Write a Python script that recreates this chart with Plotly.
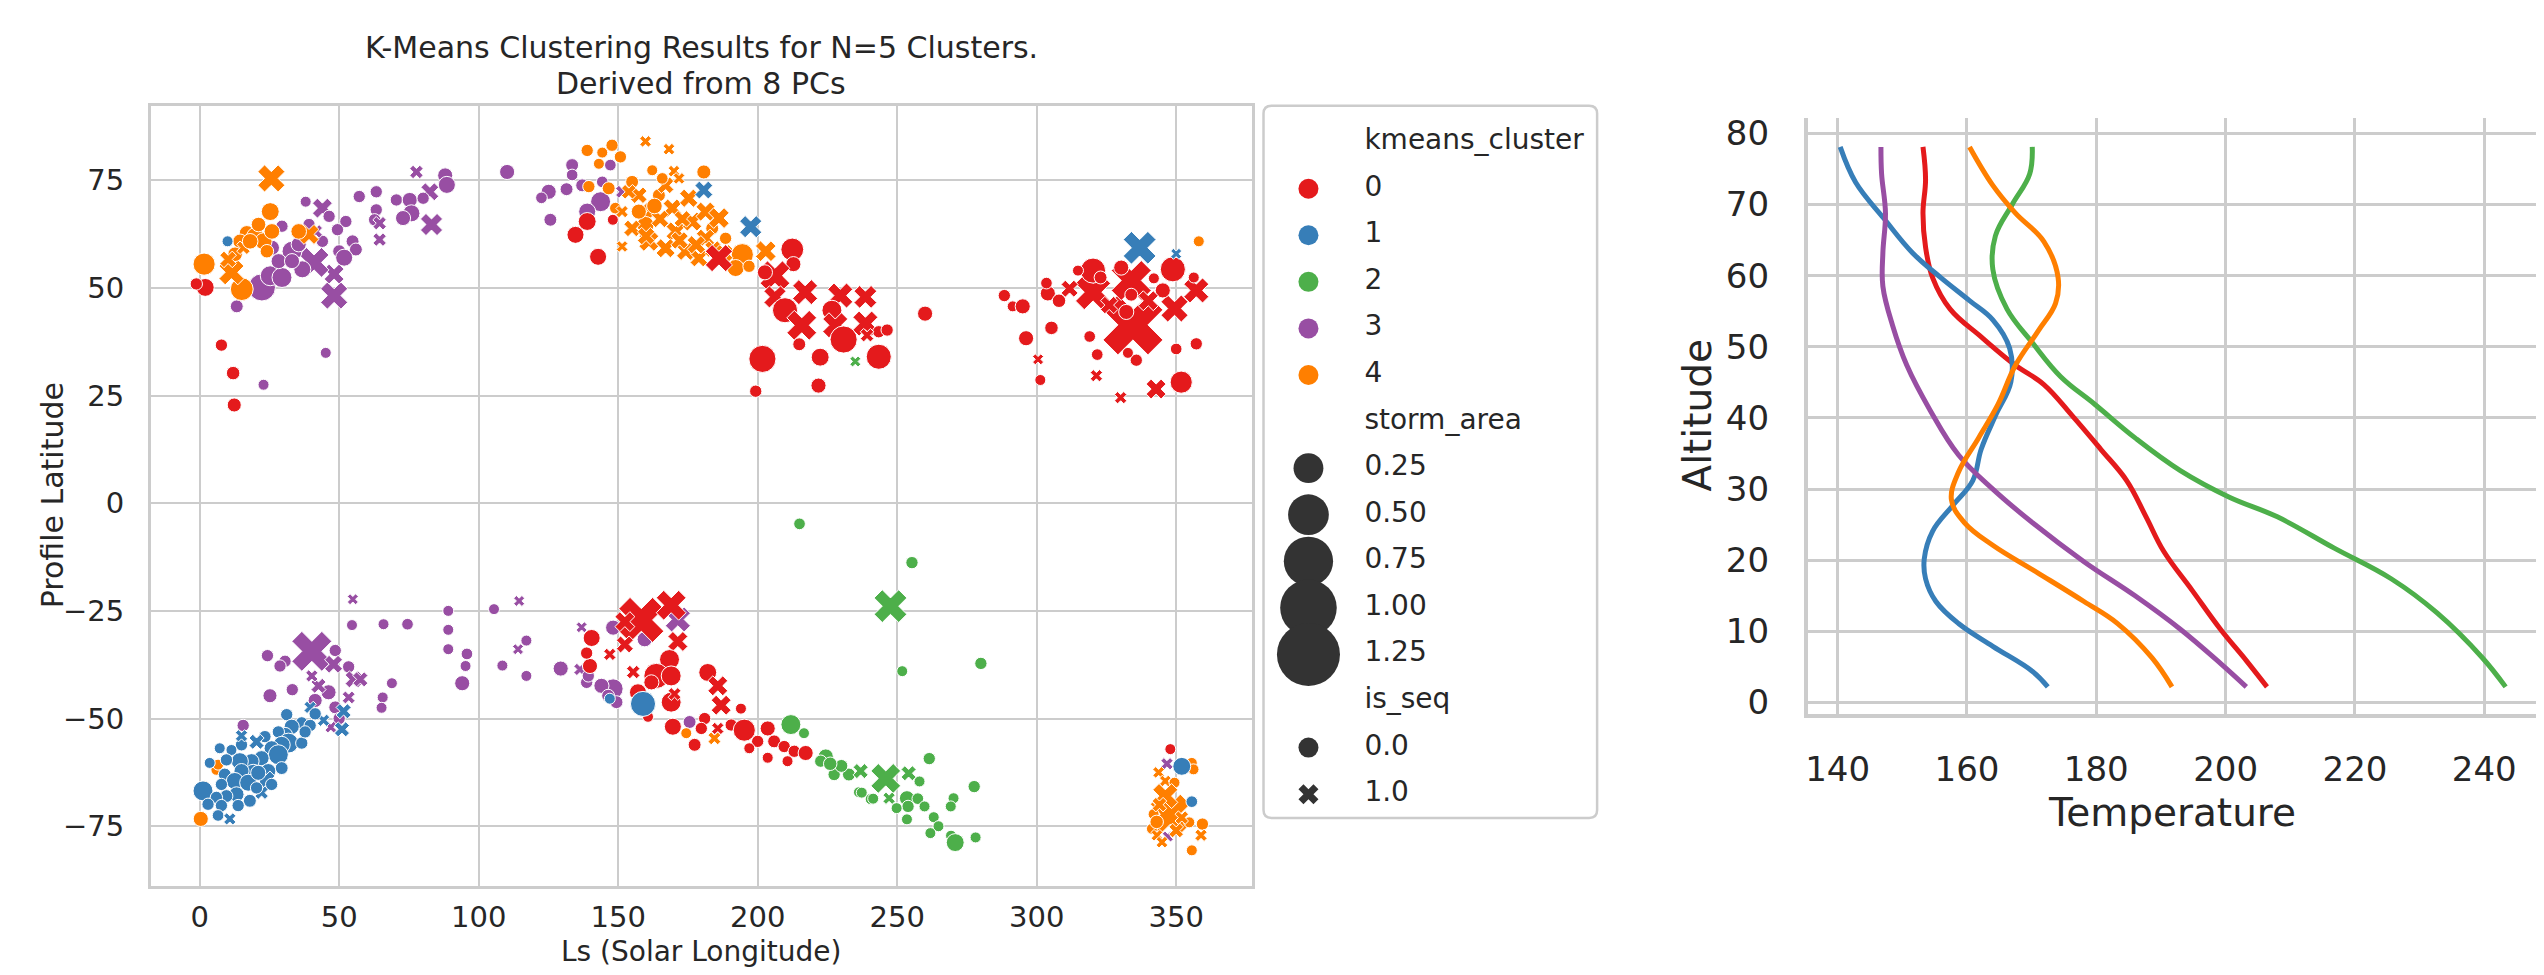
import numpy as np
import plotly.graph_objects as go

# ---------------- data ----------------
cluster_ids = [0, 1, 2, 3, 4]
cluster_colors = ["#e41a1c", "#377eb8", "#4daf4a", "#984ea3", "#ff7f00"]

# rows: (Ls, profile latitude, storm_area, is_seq)
cluster0_points = [
    (2.0, 50.1, 0.065, 0), (-1.2, 50.9, 0.01, 0), (7.8, 36.7, 0.01, 0), (12.0, 30.2, 0.02, 0), (12.4, 22.8, 0.025, 0),
    (138.9, 65.4, 0.065, 0), (134.7, 62.3, 0.055, 0), (142.8, 57.2, 0.055, 0), (148.1, 65.8, 0.0, 0),
    (186.1, 56.9, 0.2, 1), (212.4, 58.9, 0.13, 0), (201.7, 33.5, 0.2, 0),
    (212.8, 55.5, 0.035, 0), (206.2, 52.8, 0.25, 1), (202.6, 53.6, 0.035, 0), (206.2, 47.9, 0.12, 1),
    (217.0, 49.0, 0.165, 1), (209.8, 44.8, 0.165, 0), (215.8, 41.3, 0.25, 1), (229.6, 48.2, 0.165, 1),
    (238.6, 47.9, 0.13, 1), (226.6, 44.8, 0.09, 0), (227.8, 41.3, 0.165, 1), (238.6, 41.7, 0.165, 1),
    (230.8, 38.0, 0.2, 0), (243.4, 39.8, 0.01, 0), (246.4, 40.2, 0.01, 0), (239.2, 39.0, 0.02, 1),
    (214.9, 36.9, 0.015, 0), (222.4, 33.9, 0.065, 0), (243.4, 34.0, 0.165, 0), (221.8, 27.3, 0.035, 0),
    (199.3, 26.0, 0.01, 0), (260.0, 44.0, 0.035, 0), (288.4, 48.2, 0.01, 0), (291.4, 45.7, 0.0, 0),
    (295.0, 45.7, 0.035, 0), (296.2, 38.3, 0.035, 0),
    (334.5, 41.4, 1.13, 1), (333.9, 51.7, 0.48, 1), (320.2, 49.0, 0.36, 1), (349.4, 45.2, 0.2, 1),
    (357.2, 49.4, 0.165, 1), (311.8, 49.8, 0.055, 1), (320.2, 54.0, 0.165, 0), (348.8, 54.3, 0.165, 0),
    (330.3, 54.7, 0.035, 0), (322.9, 52.4, 0.015, 0), (333.9, 48.4, 0.015, 0), (332.1, 44.4, 0.035, 0),
    (345.2, 49.4, 0.035, 0), (342.0, 52.2, 0.0, 0), (356.3, 52.4, 0.0, 0), (319.0, 38.7, 0.005, 0),
    (321.7, 34.5, 0.005, 0), (335.7, 33.2, 0.01, 0), (332.7, 34.9, 0.0, 0), (350.0, 35.8, 0.005, 0),
    (357.2, 37.0, 0.01, 0), (351.8, 28.1, 0.12, 0), (342.8, 26.5, 0.09, 1), (321.4, 29.6, 0.01, 1),
    (330.1, 24.5, 0.01, 1), (314.8, 54.0, 0.0, 0), (300.5, 33.4, 0.0, 1), (301.3, 28.6, 0.0, 0),
    (305.3, 40.7, 0.02, 0), (304.0, 48.7, 0.035, 0), (303.5, 51.1, 0.005, 0), (308.0, 47.0, 0.02, 0),
    (326.0, 46.0, 0.06, 1), (340.0, 47.0, 0.09, 1),
    (158.3, -27.1, 0.62, 1), (169.0, -23.7, 0.25, 1), (152.4, -27.5, 0.09, 1), (152.4, -32.8, 0.055, 1),
    (171.4, -32.1, 0.09, 1), (147.0, -35.1, 0.01, 1), (155.4, -39.2, 0.02, 1), (140.5, -31.3, 0.055, 0),
    (139.9, -37.8, 0.035, 0), (138.7, -34.8, 0.01, 0), (168.4, -36.3, 0.09, 0), (163.7, -40.1, 0.165, 0),
    (169.0, -40.1, 0.09, 0), (157.1, -43.9, 0.055, 0), (169.0, -46.2, 0.09, 0), (170.2, -44.3, 0.015, 1),
    (182.1, -39.3, 0.065, 0), (185.7, -42.4, 0.09, 1), (186.9, -46.9, 0.09, 1), (194.0, -47.7, 0.0, 0),
    (169.6, -51.9, 0.055, 0), (177.4, -56.1, 0.015, 0), (181.0, -50.0, 0.01, 0), (179.8, -52.3, 0.01, 0),
    (185.7, -52.3, 0.01, 1), (190.5, -51.5, 0.01, 0), (195.2, -52.7, 0.12, 0), (200.0, -55.3, 0.01, 0),
    (197.0, -56.9, 0.0, 0), (203.6, -52.3, 0.035, 0), (205.9, -55.3, 0.015, 0), (209.5, -56.5, 0.01, 0),
    (203.6, -59.1, 0.0, 0), (210.7, -59.9, 0.0, 0), (213.1, -57.6, 0.01, 0), (217.2, -58.0, 0.035, 0),
    (160.7, -49.6, 0.0, 0), (161.9, -41.6, 0.035, 0), (347.9, -57.1, 0.0, 0),
]

cluster1_points = [
    (10.0, 60.8, 0.0, 0), (180.7, 72.7, 0.065, 1), (197.5, 64.2, 0.12, 1), (336.9, 59.3, 0.31, 1), (350.0, 57.9, 0.0, 1),
    (51.6, -48.3, 0.035, 1), (51.0, -52.5, 0.035, 1), (39.6, -47.4, 0.01, 1), (44.4, -50.4, 0.01, 1),
    (31.2, -49.1, 0.01, 0), (36.6, -51.0, 0.01, 0), (39.6, -51.6, 0.01, 0), (33.0, -51.9, 0.035, 0),
    (30.6, -53.8, 0.035, 0), (28.2, -53.1, 0.01, 0), (31.8, -55.7, 0.09, 0), (29.4, -56.1, 0.055, 0),
    (36.6, -55.7, 0.01, 0), (23.4, -54.2, 0.01, 0), (25.8, -56.9, 0.035, 0), (20.4, -55.4, 0.035, 1),
    (15.0, -56.1, 0.01, 0), (7.2, -56.9, 0.0, 0), (11.4, -57.3, 0.0, 0), (28.2, -58.4, 0.09, 0),
    (22.2, -59.2, 0.035, 0), (18.6, -59.9, 0.035, 0), (14.4, -59.9, 0.055, 0), (9.6, -59.6, 0.01, 0),
    (3.6, -60.3, 0.0, 0), (29.4, -61.5, 0.015, 0), (24.6, -62.2, 0.035, 0), (19.2, -62.6, 0.055, 0),
    (15.0, -62.2, 0.035, 0), (9.0, -63.0, 0.015, 0), (12.6, -64.5, 0.055, 0), (23.4, -64.5, 0.09, 1),
    (17.4, -64.9, 0.055, 0), (7.8, -65.3, 0.01, 0), (1.2, -66.8, 0.09, 0), (22.2, -67.2, 0.02, 1),
    (13.2, -67.6, 0.035, 0), (18.0, -69.1, 0.015, 0), (9.6, -68.0, 0.015, 0), (6.0, -68.3, 0.01, 0),
    (3.0, -69.9, 0.01, 0), (7.8, -70.2, 0.01, 0), (13.8, -70.2, 0.01, 0), (6.6, -72.5, 0.005, 0),
    (10.8, -73.3, 0.01, 1), (21.0, -62.6, 0.035, 0), (25.8, -65.3, 0.01, 0), (20.4, -66.1, 0.01, 0),
    (15.0, -54.0, 0.01, 1), (37.8, -53.1, 0.01, 0), (41.4, -48.9, 0.01, 0),
    (158.9, -46.6, 0.165, 0), (147.0, -45.4, 0.0, 0), (352.0, -61.1, 0.065, 0), (355.6, -69.3, 0.005, 0),
]

cluster2_points = [
    (235.0, 32.9, 0.0, 1),
    (215.0, -4.8, 0.005, 0), (255.3, -13.8, 0.01, 0), (247.6, -23.9, 0.31, 1), (251.8, -39.0, 0.0, 0), (280.0, -37.2, 0.01, 0),
    (211.9, -51.4, 0.09, 0), (216.6, -53.4, 0.0, 0), (224.4, -58.8, 0.035, 0), (222.6, -59.9, 0.01, 0),
    (227.4, -63.0, 0.01, 0), (232.7, -63.0, 0.015, 0), (236.9, -62.2, 0.035, 1), (236.3, -67.1, 0.0, 0),
    (240.5, -68.7, 0.0, 0), (245.9, -63.9, 0.25, 1), (254.1, -62.7, 0.035, 1), (261.5, -59.3, 0.01, 0),
    (258.0, -64.6, 0.0, 0), (277.6, -65.8, 0.01, 0), (237.3, -67.2, 0.0, 0), (241.4, -68.6, 0.0, 0),
    (253.5, -68.5, 0.035, 0), (257.4, -68.6, 0.005, 0), (253.9, -70.4, 0.01, 0), (249.8, -70.8, 0.0, 0),
    (259.8, -70.4, 0.0, 0), (270.2, -68.5, 0.0, 0), (269.2, -70.4, 0.0, 0), (247.1, -68.5, 0.01, 1),
    (263.1, -72.9, 0.0, 0), (253.5, -73.4, 0.0, 0), (264.8, -75.0, 0.0, 0), (261.9, -76.6, 0.0, 0),
    (269.3, -77.2, 0.0, 0), (270.8, -78.8, 0.065, 0), (278.1, -77.6, 0.0, 0), (230.0, -61.0, 0.015, 0),
    (226.0, -60.5, 0.02, 0),
]

cluster3_points = [
    (13.3, 45.7, 0.015, 0), (45.2, 34.9, 0.0, 0), (22.9, 27.5, 0.0, 0), (48.2, 48.2, 0.2, 1),
    (48.2, 53.2, 0.09, 1), (41.0, 55.9, 0.25, 1), (44.0, 68.5, 0.09, 1), (22.3, 50.1, 0.2, 0),
    (25.3, 52.8, 0.09, 0), (29.5, 52.4, 0.09, 0), (33.1, 58.5, 0.09, 0), (36.8, 54.3, 0.055, 0),
    (29.5, 64.3, 0.01, 0), (38.0, 70.0, 0.0, 0), (46.4, 66.6, 0.01, 0), (52.4, 65.4, 0.01, 0),
    (50.0, 58.5, 0.015, 0), (54.8, 60.8, 0.015, 0), (56.0, 58.9, 0.015, 0), (51.8, 57.0, 0.055, 0),
    (49.4, 63.5, 0.01, 0), (57.2, 71.2, 0.01, 0), (63.3, 72.3, 0.01, 0), (63.3, 68.1, 0.01, 0),
    (62.7, 65.8, 0.01, 0), (64.5, 61.2, 0.02, 1), (64.5, 65.0, 0.02, 1), (70.5, 70.4, 0.01, 0),
    (75.3, 70.4, 0.035, 0), (75.9, 67.3, 0.055, 0), (72.9, 66.2, 0.035, 0), (83.1, 64.7, 0.12, 1),
    (82.5, 72.3, 0.065, 1), (77.7, 76.9, 0.02, 1), (88.0, 76.1, 0.035, 0), (88.6, 73.9, 0.055, 0),
    (80.1, 70.8, 0.01, 0), (44.0, 60.8, 0.01, 0), (41.6, 63.1, 0.02, 1), (35.5, 60.1, 0.035, 0),
    (25.9, 59.3, 0.035, 0), (28.3, 56.2, 0.035, 0), (33.1, 56.2, 0.035, 0), (39.2, 64.7, 0.01, 0),
    (110.2, 76.9, 0.035, 0), (133.5, 78.5, 0.015, 0), (133.5, 76.2, 0.005, 0), (125.1, 72.3, 0.035, 0),
    (122.5, 70.9, 0.005, 0), (131.5, 72.9, 0.015, 0), (125.7, 65.8, 0.015, 0), (137.1, 73.8, 0.015, 0),
    (143.7, 70.0, 0.09, 0), (138.9, 67.7, 0.055, 0), (144.3, 74.6, 0.005, 0), (147.2, 78.5, 0.005, 0),
    (151.4, 72.3, 0.015, 1),
    (40.2, -34.4, 0.48, 1), (24.3, -35.4, 0.01, 0), (30.6, -36.7, 0.01, 0), (28.8, -37.8, 0.01, 0),
    (48.6, -34.2, 0.01, 0), (53.4, -38.0, 0.01, 0), (48.0, -37.4, 0.065, 1), (55.2, -40.9, 0.055, 1),
    (57.6, -40.9, 0.035, 1), (25.2, -44.7, 0.025, 0), (33.2, -43.3, 0.01, 0), (41.4, -45.8, 0.025, 0),
    (46.2, -43.9, 0.035, 0), (48.6, -47.4, 0.015, 0), (42.6, -42.4, 0.035, 1), (53.4, -45.1, 0.015, 1),
    (15.6, -51.6, 0.01, 0), (54.6, -28.3, 0.0, 0), (54.9, -22.3, 0.0, 1), (65.9, -28.1, 0.0, 0),
    (74.5, -28.1, 0.005, 0), (89.1, -25.0, 0.0, 0), (89.1, -29.4, 0.0, 0), (89.1, -33.9, 0.0, 0),
    (95.8, -35.0, 0.005, 0), (95.3, -37.8, 0.0, 0), (94.1, -41.8, 0.035, 0), (105.5, -24.6, 0.0, 0),
    (114.5, -22.7, 0.0, 1), (117.1, -31.9, 0.0, 0), (114.1, -33.9, 0.0, 1), (108.5, -37.7, 0.0, 0),
    (117.1, -40.1, 0.0, 0), (68.9, -41.8, 0.0, 0), (65.6, -45.1, 0.0, 0), (65.2, -47.5, 0.0, 0),
    (40.2, -40.1, 0.01, 1), (50.0, -50.0, 0.01, 0), (47.0, -52.0, 0.005, 1),
    (129.4, -38.4, 0.035, 0), (136.9, -28.8, 0.0, 1), (148.2, -28.9, 0.035, 0), (159.5, -31.6, 0.035, 0),
    (171.4, -27.0, 0.165, 1), (148.2, -43.1, 0.09, 0), (144.0, -42.4, 0.035, 0), (138.7, -41.6, 0.01, 0),
    (136.3, -38.6, 0.01, 1), (149.4, -46.2, 0.015, 0), (146.4, -44.7, 0.015, 0), (175.6, -50.8, 0.015, 0),
    (139.3, -40.1, 0.01, 0),
    (346.7, -60.5, 0.01, 1), (347.0, -77.4, 0.0, 1),
]

cluster4_points = [
    (25.7, 75.4, 0.2, 1), (25.3, 67.7, 0.065, 0), (1.6, 55.5, 0.12, 0), (15.1, 49.7, 0.13, 0),
    (11.4, 53.6, 0.165, 1), (39.2, 62.4, 0.09, 1), (16.9, 62.7, 0.035, 0), (19.9, 62.0, 0.055, 0),
    (22.9, 60.8, 0.055, 0), (24.1, 58.5, 0.02, 0), (14.5, 60.8, 0.03, 0), (12.7, 57.8, 0.03, 0),
    (10.2, 56.6, 0.05, 1), (15.7, 59.3, 0.02, 1), (25.9, 63.1, 0.04, 0), (35.5, 63.1, 0.04, 0),
    (21.1, 64.7, 0.03, 0), (18.1, 60.8, 0.04, 0),
    (138.9, 81.9, 0.01, 0), (147.8, 83.1, 0.01, 0), (144.3, 81.4, 0.0, 0), (150.8, 80.4, 0.01, 0),
    (143.1, 78.8, 0.0, 0), (159.8, 84.0, 0.005, 1), (168.2, 82.2, 0.005, 1), (180.7, 76.9, 0.025, 0),
    (155.0, 74.6, 0.015, 0), (162.2, 77.3, 0.0, 0), (170.0, 77.1, 0.005, 1), (139.5, 73.5, 0.01, 0),
    (146.6, 73.1, 0.015, 0), (149.0, 68.5, 0.005, 0), (151.4, 67.7, 0.01, 1), (151.4, 59.6, 0.005, 1),
    (157.4, 71.5, 0.05, 1), (162.2, 67.7, 0.08, 1), (159.8, 64.6, 0.055, 0), (161.0, 60.8, 0.09, 1),
    (164.6, 71.5, 0.015, 0), (167.0, 73.8, 0.05, 1), (169.4, 68.5, 0.07, 1), (170.6, 63.1, 0.08, 1),
    (167.0, 59.2, 0.08, 1), (175.3, 70.8, 0.07, 1), (176.5, 65.4, 0.08, 1), (174.2, 58.5, 0.07, 1),
    (178.9, 56.9, 0.06, 1), (181.3, 67.7, 0.08, 1), (183.7, 63.8, 0.015, 0), (186.1, 66.2, 0.1, 1),
    (188.5, 61.5, 0.01, 0), (181.3, 61.5, 0.07, 1), (194.5, 57.7, 0.12, 0), (192.1, 54.6, 0.055, 0),
    (196.9, 55.0, 0.01, 0), (171.8, 75.4, 0.005, 1), (165.8, 75.4, 0.005, 0), (157.4, 67.7, 0.035, 0),
    (155.0, 63.8, 0.05, 1), (153.8, 72.3, 0.03, 1), (202.9, 58.5, 0.1, 1),
    (165.0, 66.0, 0.06, 1), (172.0, 61.0, 0.06, 1), (178.0, 60.0, 0.07, 1), (184.0, 59.0, 0.05, 1),
    (163.0, 69.0, 0.04, 0), (173.0, 66.0, 0.05, 1), (188.0, 58.0, 0.06, 1), (160.0, 62.0, 0.06, 1),
    (0.4, -73.3, 0.035, 0), (1.8, -65.7, 0.0, 0), (3.2, -68.3, 0.0, 0), (6.0, -61.9, 0.0, 0), (6.6, -60.7, 0.0, 0),
    (174.4, -53.4, 0.0, 0), (184.5, -54.6, 0.015, 1),
    (355.6, -60.3, 0.0, 0), (356.2, -61.8, 0.0, 0), (343.7, -62.5, 0.005, 1), (346.1, -64.5, 0.005, 1),
    (349.4, -64.9, 0.0, 0), (347.9, -72.2, 0.48, 1), (346.1, -68.0, 0.165, 1), (341.9, -72.2, 0.0, 0),
    (341.3, -75.6, 0.0, 0), (343.1, -77.1, 0.005, 1), (344.9, -78.7, 0.005, 1), (354.7, -74.1, 0.0, 0),
    (359.4, -74.5, 0.01, 0), (358.9, -77.1, 0.01, 1), (355.6, -80.6, 0.0, 0), (358.1, 60.8, 0.0, 0),
    (344.0, -70.0, 0.03, 1), (350.0, -76.0, 0.03, 1), (343.0, -74.0, 0.02, 0), (352.0, -73.0, 0.02, 1),
]

# mean temperature profiles per cluster (temperature, altitude)
profile0_temp = [206.4, 203.2, 199.2, 194.8, 190.4, 187.7, 184.7, 180.7, 176.3, 171.9, 167.5, 162.2, 157.4, 154.7, 153.6, 153.2, 153.6, 153.2]
profile0_alt = [2.2, 5.9, 10.3, 15.8, 21.3, 26.1, 31.2, 35.6, 40.3, 44.7, 47.4, 51.4, 55.3, 59.7, 64.0, 68.8, 73.5, 78.1]
profile1_temp = [172.5, 170.1, 164.0, 158.7, 155.2, 153.6, 153.4, 154.7, 157.8, 160.9, 162.2, 164.4, 166.8, 166.6, 164.0, 160.4, 156.0, 151.6, 147.2, 142.8, 140.4]
profile1_alt = [2.2, 4.4, 7.9, 11.1, 14.2, 17.4, 20.2, 24.1, 27.7, 31.2, 35.6, 40.3, 45.1, 49.8, 53.8, 56.5, 59.7, 63.2, 68.0, 73.1, 78.1]
profile2_temp = [243.3, 239.7, 232.7, 225.6, 216.8, 208.0, 200.5, 193.0, 186.0, 179.8, 174.5, 170.1, 166.2, 164.0, 164.4, 167.0, 169.7, 170.1]
profile2_alt = [2.2, 6.3, 12.6, 17.4, 21.7, 26.1, 28.9, 32.6, 37.2, 41.9, 45.8, 50.6, 55.3, 60.9, 65.6, 70.0, 74.3, 78.1]
profile3_temp = [203.2, 199.2, 193.0, 186.0, 178.1, 170.1, 164.0, 158.7, 154.3, 150.7, 148.5, 147.0, 147.0, 147.4, 146.8, 146.7]
profile3_alt = [2.2, 5.5, 10.3, 15.0, 19.8, 25.3, 30.0, 34.8, 41.1, 47.4, 53.0, 58.5, 63.2, 68.8, 74.3, 78.1]
profile4_temp = [191.7, 188.6, 183.3, 178.1, 171.0, 164.0, 159.6, 157.6, 158.7, 161.8, 164.8, 167.5, 171.0, 173.7, 174.1, 171.9, 167.5, 164.0, 160.4]
profile4_alt = [2.2, 6.3, 11.1, 14.2, 18.2, 22.1, 25.3, 28.5, 32.4, 37.2, 41.9, 47.4, 52.2, 56.1, 59.7, 64.8, 68.8, 72.7, 78.1]

storm_area_legend = [0.25, 0.50, 0.75, 1.00, 1.25]
is_seq_legend = [0.0, 1.0]

left_xticks = [0, 50, 100, 150, 200, 250, 300, 350]
left_yticks = [-75, -50, -25, 0, 25, 50, 75]
right_xticks = [140, 160, 180, 200, 220, 240]
right_yticks = [0, 10, 20, 30, 40, 50, 60, 70, 80]

title_lines = ["K-Means Clustering Results for N=5 Clusters.", "Derived from 8 PCs"]

# ---------------- style ----------------
W, H = 2544, 975
FONT = "DejaVu Sans"
TXT = "#262626"
GRID = "#cccccc"


def area_px(v):
    return np.sqrt(121.0 + 3080.0 * np.asarray(v, dtype=float))


def px_x(p):
    return p / W


def px_y(p):
    return 1 - p / H


fig = go.Figure()

cluster_points = {0: cluster0_points, 1: cluster1_points, 2: cluster2_points,
                  3: cluster3_points, 4: cluster4_points}

for cid in [3, 4, 0, 2, 1]:
    pts = cluster_points[cid]
    ls = [p[0] for p in pts]
    lat = [p[1] for p in pts]
    area = [p[2] for p in pts]
    seq = [p[3] for p in pts]
    d = area_px(area)
    sizes = [di / 1.131 if s == 1 else di for di, s in zip(d, seq)]
    symbols = ["x" if s == 1 else "circle" for s in seq]
    fig.add_trace(go.Scatter(
        x=ls, y=lat, mode="markers", xaxis="x", yaxis="y",
        marker=dict(color=cluster_colors[cid], size=sizes, symbol=symbols, opacity=1,
                    line=dict(color="white", width=1)),
        hoverinfo="skip", showlegend=False))

profiles = [(profile0_temp, profile0_alt), (profile1_temp, profile1_alt), (profile2_temp, profile2_alt),
            (profile3_temp, profile3_alt), (profile4_temp, profile4_alt)]
for cid, (t, a) in zip(cluster_ids, profiles):
    fig.add_trace(go.Scatter(
        x=t, y=a, mode="lines", xaxis="x2", yaxis="y2",
        line=dict(color=cluster_colors[cid], width=5, shape="spline", smoothing=1.1),
        hoverinfo="skip", showlegend=False))

# ---------------- custom legend (own subplot, pixel units) ----------------
LEG_L, LEG_R, LEG_T, LEG_B = 1262, 1596, 102, 824
PAD = 4
row0, row_step = 37.0, 47.2
marker_x, text_x = 45, 101

labels = ["kmeans_cluster"] + [str(c) for c in cluster_ids] + ["storm_area"] + \
         [f"{v:.2f}" for v in storm_area_legend] + ["is_seq"] + [f"{v:.1f}" for v in is_seq_legend]
rows_y = [row0 + i * row_step for i in range(len(labels))]

lm_y, lm_size, lm_color, lm_symbol = [], [], [], []
for i, c in enumerate(cluster_ids):
    lm_y.append(rows_y[1 + i]); lm_size.append(20); lm_color.append(cluster_colors[c]); lm_symbol.append("circle")
for i, v in enumerate(storm_area_legend):
    lm_y.append(rows_y[7 + i]); lm_size.append(float(area_px(v))); lm_color.append("#333333"); lm_symbol.append("circle")
for i, v in enumerate(is_seq_legend):
    lm_y.append(rows_y[13 + i]); lm_color.append("#333333")
    if v == 1.0:
        lm_size.append(20 / 1.131); lm_symbol.append("x")
    else:
        lm_size.append(20); lm_symbol.append("circle")

fig.add_trace(go.Scatter(
    x=[marker_x] * len(lm_y), y=lm_y, mode="markers", xaxis="x3", yaxis="y3",
    marker=dict(size=lm_size, color=lm_color, symbol=lm_symbol, opacity=1, line=dict(width=0)),
    hoverinfo="skip", showlegend=False))
fig.add_trace(go.Scatter(
    x=[text_x] * len(labels), y=rows_y, mode="text", text=labels, textposition="middle right",
    textfont=dict(family=FONT, size=28, color=TXT), xaxis="x3", yaxis="y3",
    hoverinfo="skip", showlegend=False))

bw, bh, r = LEG_R - LEG_L, LEG_B - LEG_T, 8
frame_path = (f"M {r},0 L {bw - r},0 Q {bw},0 {bw},{r} L {bw},{bh - r} Q {bw},{bh} {bw - r},{bh} "
              f"L {r},{bh} Q 0,{bh} 0,{bh - r} L 0,{r} Q 0,0 {r},0 Z")

fig.add_shape(type="path", path=frame_path, xref="x3", yref="y3",
              line=dict(color=GRID, width=2.5), fillcolor="rgba(255,255,255,0)", layer="below")

# ---------------- text annotations ----------------
def label(text, x, y, size, angle=0):
    return dict(text=text, x=px_x(x), y=px_y(y), xref="paper", yref="paper", textangle=angle,
                showarrow=False, xanchor="center", yanchor="middle",
                font=dict(family=FONT, size=size, color=TXT))


ann = [
    label(title_lines[0], 699, 43, 30),
    label(title_lines[1], 699, 80, 30),
    label("Profile Latitude", 49, 497, 30, -90),
    label("Ls (Solar Longitude)", 699, 959, 28),
    label("Altitude", 1696, 416, 39, -90),
    label("Temperature", 2172, 818, 39),
]

left_axis_common = dict(showgrid=True, gridcolor=GRID, gridwidth=2, zeroline=False,
                        showline=True, mirror=True, linecolor=GRID, linewidth=2.5,
                        ticks="", tickfont=dict(family=FONT, size=29, color=TXT))
right_axis_common = dict(showgrid=True, gridcolor=GRID, gridwidth=3, zeroline=False,
                         showline=True, mirror=False, linecolor=GRID, linewidth=4,
                         ticks="", tickfont=dict(family=FONT, size=34, color=TXT))

fig.update_layout(
    width=W, height=H, margin=dict(l=0, r=0, t=0, b=0),
    paper_bgcolor="white", plot_bgcolor="white", showlegend=False,
    annotations=ann,
    xaxis=dict(domain=[px_x(148), px_x(1250)], range=[-17.5, 377], anchor="y",
               tickvals=left_xticks, ticklabelstandoff=3, **left_axis_common),
    yaxis=dict(domain=[px_y(893), px_y(102)], range=[-88.9, 92.3], anchor="x",
               tickvals=left_yticks, ticklabelstandoff=18, **left_axis_common),
    xaxis2=dict(domain=[px_x(1807), px_x(2536)], range=[135.4, 248.0], anchor="y2",
                tickvals=right_xticks, ticklabelstandoff=22, **right_axis_common),
    yaxis2=dict(domain=[px_y(718.5), px_y(115)], range=[-1.6, 82.1], anchor="x2",
                tickvals=right_yticks, ticklabelstandoff=28, **right_axis_common),
    xaxis3=dict(domain=[px_x(LEG_L - PAD), px_x(LEG_R + PAD)], range=[-PAD, bw + PAD], anchor="y3",
                visible=False, fixedrange=True),
    yaxis3=dict(domain=[px_y(LEG_B + PAD), px_y(LEG_T - PAD)], range=[bh + PAD, -PAD], anchor="x3",
                visible=False, fixedrange=True),
)

fig.write_html("out.html", config={"displayModeBar": False},
               post_script="document.body.style.margin='0';document.body.style.overflow='hidden';")
